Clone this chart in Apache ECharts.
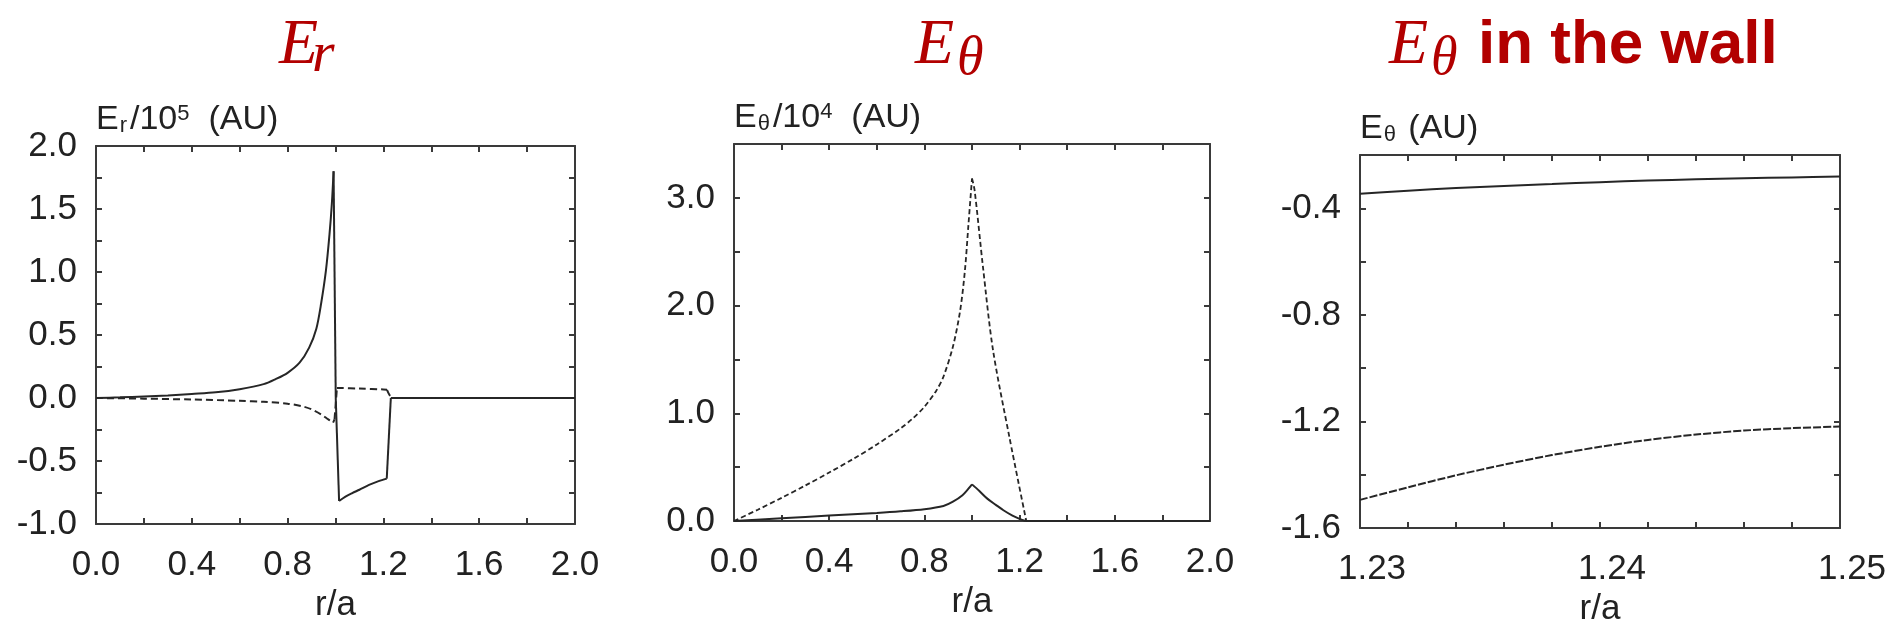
<!DOCTYPE html>
<html>
<head>
<meta charset="utf-8">
<script src="https://cdn.jsdelivr.net/npm/echarts/dist/echarts.min.js"></script>
<style>
html,body{margin:0;padding:0;background:#fff;}
#c{width:1892px;height:632px;}
</style>
</head>
<body>
<div id="c"></div>
<script>
// ---------- DATA ----------
// Panel 1: E_r / 10^5 (AU) vs r/a
const erSolidR = [0, 0.1, 0.2, 0.3, 0.4, 0.5, 0.6, 0.7, 0.75, 0.8, 0.85, 0.89, 0.92, 0.94, 0.96, 0.975, 0.985, 0.992, 1.001, 1.015, 1.04, 1.07, 1.1, 1.14, 1.18, 1.214, 1.231, 1.6, 2.0];
const erSolidV = [0, 0.005, 0.012, 0.02, 0.032, 0.045, 0.07, 0.11, 0.15, 0.2, 0.28, 0.40, 0.55, 0.75, 1.01, 1.30, 1.55, 1.80, 0.0, -0.818, -0.785, -0.755, -0.728, -0.69, -0.66, -0.64, 0.0, 0, 0];
const erSolidCorners = [0, 17, 18, 19, 25, 26, 28];
const erDashR = [0, 0.2, 0.4, 0.6, 0.7, 0.8, 0.86, 0.9, 0.94, 0.97, 0.99, 0.996, 1.006, 1.1, 1.2, 1.215, 1.225, 1.235, 1.6, 2.0];
const erDashV = [0, -0.005, -0.012, -0.022, -0.03, -0.045, -0.065, -0.09, -0.13, -0.17, -0.195, -0.17, 0.08, 0.075, 0.068, 0.065, 0.025, 0, 0, 0];
const erDashCorners = [0, 10, 11, 12, 15, 17, 19];

// Panel 2: E_theta / 10^4 (AU) vs r/a
const etDashR = [0, 0.1, 0.2, 0.3, 0.4, 0.5, 0.6, 0.7, 0.75, 0.8, 0.85, 0.88, 0.92, 0.95, 0.97, 0.985, 1.0, 1.011, 1.046, 1.088, 1.157, 1.228, 1.6, 2.0];
const etDashV = [0, 0.105, 0.215, 0.33, 0.45, 0.575, 0.71, 0.86, 0.95, 1.06, 1.21, 1.34, 1.62, 1.95, 2.32, 2.75, 3.18, 3.07, 2.36, 1.59, 0.78, 0, 0, 0];
const etDashCorners = [0, 16, 21, 23];
const etSolidR = [0, 0.2, 0.4, 0.6, 0.7, 0.8, 0.88, 0.92, 0.96, 0.985, 1.0, 1.03, 1.063, 1.1, 1.132, 1.17, 1.202, 1.225, 1.6, 2.0];
const etSolidV = [0, 0.025, 0.05, 0.075, 0.09, 0.11, 0.14, 0.18, 0.24, 0.3, 0.34, 0.28, 0.21, 0.15, 0.10, 0.05, 0.018, 0, 0, 0];
const etSolidCorners = [0, 10, 17, 19];

// Panel 3: E_theta (AU) in the wall
const wallR = [1.230, 1.232, 1.234, 1.236, 1.238, 1.240, 1.242, 1.244, 1.246, 1.248, 1.250];
const wallSolidV = [-0.345, -0.334, -0.324, -0.316, -0.309, -0.302, -0.296, -0.291, -0.287, -0.284, -0.281];
const wallDashV = [-1.494, -1.447, -1.402, -1.362, -1.326, -1.295, -1.269, -1.249, -1.234, -1.225, -1.219];
const wallCorners = [0, 10];

// Tick label sets
const p1XLabels = [0.0, 0.4, 0.8, 1.2, 1.6, 2.0];
const p1YLabels = [-1.0, -0.5, 0.0, 0.5, 1.0, 1.5, 2.0];
const p2YLabels = [0.0, 1.0, 2.0, 3.0];
const p3XLabels = [1.23, 1.24, 1.25];
const p3YLabels = [-1.6, -1.2, -0.8, -0.4];

// ---------- CHART ----------
const INK = '#262626';
const FRAME = '#3a3a3a';
const LABEL_FONT = '"Liberation Sans", Arial, Helvetica, sans-serif';
const RED = '#b20000';

function inSet(set, v, tol) {
  return set.some(s => Math.abs(s - v) < tol);
}

const panels = [
  {
    grid: {left: 96, top: 146, width: 479, height: 378},
    x: {min: 0, max: 2, interval: 0.2, labels: p1XLabels, digits: 1},
    y: {min: -1, max: 2, interval: 0.25, labels: p1YLabels, digits: 1},
    name: '{t|E}{s|r}{t|/10}{p|5}{t|  (AU)}',
    xPad: 0,
    curves: [
      {r: erSolidR, v: erSolidV, corners: erSolidCorners, type: 'solid', width: 2},
      {r: erDashR, v: erDashV, corners: erDashCorners, type: [7, 4], width: 2}
    ]
  },
  {
    grid: {left: 734, top: 144, width: 476, height: 377},
    x: {min: 0, max: 2, interval: 0.2, labels: p1XLabels, digits: 1},
    y: {min: 0, max: 3.5, interval: 0.5, labels: p2YLabels, digits: 1},
    name: '{t|E}{s|θ}{t|/10}{p|4}{t|  (AU)}',
    xPad: 0,
    curves: [
      {r: etDashR, v: etDashV, corners: etDashCorners, type: [5, 3], width: 1.8},
      {r: etSolidR, v: etSolidV, corners: etSolidCorners, type: 'solid', width: 2}
    ]
  },
  {
    grid: {left: 1360, top: 155, width: 480, height: 385},
    x: {min: 1.23, max: 1.25, interval: 0.002, labels: p3XLabels, digits: 2},
    y: {min: -1.6, max: -0.2, interval: 0.2, labels: p3YLabels, digits: 1},
    name: '{t|E}{s|θ}{t| (AU)}',
    xPad: 24,
    curves: [
      {r: wallR, v: wallSolidV, corners: wallCorners, type: 'solid', width: 2},
      {r: wallR, v: wallDashV, corners: wallCorners, type: [8, 2], width: 2}
    ]
  }
];

const grids = [], xAxes = [], yAxes = [], series = [];
const lineStyle = {color: FRAME, width: 2};
const rich = {
  t: {fontSize: 34, fontFamily: LABEL_FONT, color: '#222'},
  s: {fontSize: 22, fontFamily: LABEL_FONT, color: '#222', verticalAlign: 'bottom', padding: [0, 3, 0, 1]},
  p: {fontSize: 22, fontFamily: LABEL_FONT, color: '#222', verticalAlign: 'top'}
};

panels.forEach((p, i) => {
  grids.push(Object.assign({containLabel: false}, p.grid));
  const xBase = {
    type: 'value', gridIndex: i, min: p.x.min, max: p.x.max, interval: p.x.interval,
    axisLine: {show: true, onZero: false, lineStyle},
    axisTick: {show: true, inside: true, length: 6, lineStyle},
    splitLine: {show: false}
  };
  xAxes.push(Object.assign({}, xBase, {
    position: 'bottom',
    axisLabel: {
      show: true, margin: 24, fontSize: 35, fontFamily: LABEL_FONT, color: '#222',
      padding: [0, 0, 0, p.xPad],
      formatter: v => inSet(p.x.labels, v, p.x.interval / 10) ? v.toFixed(p.x.digits) : ''
    },
    name: 'r/a', nameLocation: 'middle', nameGap: 57,
    nameTextStyle: {fontSize: 35, fontFamily: LABEL_FONT, color: '#222'}
  }));
  xAxes.push(Object.assign({}, xBase, {position: 'top', axisLabel: {show: false}}));
  const yBase = {
    type: 'value', gridIndex: i, min: p.y.min, max: p.y.max, interval: p.y.interval,
    axisLine: {show: true, onZero: false, lineStyle},
    axisTick: {show: true, inside: true, length: 6, lineStyle},
    splitLine: {show: false}
  };
  yAxes.push(Object.assign({}, yBase, {
    position: 'left',
    axisLabel: {
      show: true, margin: 19, fontSize: 35, fontFamily: LABEL_FONT, color: '#222',
      formatter: v => inSet(p.y.labels, v, p.y.interval / 10) ? v.toFixed(p.y.digits) : ''
    },
    name: p.name, nameLocation: 'end', nameGap: 9,
    nameTextStyle: {align: 'left', verticalAlign: 'bottom', rich}
  }));
  yAxes.push(Object.assign({}, yBase, {position: 'right', axisLabel: {show: false}}));
  p.curves.forEach(c => {
    for (let k = 0; k < c.corners.length - 1; k++) {
      const a = c.corners[k], b = c.corners[k + 1];
      const seg = [];
      for (let j = a; j <= b; j++) seg.push([c.r[j], c.v[j]]);
      series.push({
        type: 'line', xAxisIndex: 2 * i, yAxisIndex: 2 * i, data: seg,
        showSymbol: false, symbol: 'none', animation: false, clip: true,
        smooth: seg.length > 2 ? 0.3 : false,
        lineStyle: {color: INK, width: c.width, type: c.type}
      });
    }
  });
});

function t(text, x, y, size, opts) {
  return {
    type: 'text', x: x, y: y, silent: true,
    style: Object.assign({
      text: text, fill: RED, fontSize: size,
      fontFamily: '"Liberation Serif", "DejaVu Serif", serif', fontStyle: 'italic',
      align: 'left', verticalAlign: 'middle'
    }, opts || {})
  };
}

const graphics = [
  t('E', 279, 46, 64),
  t('r', 312, 56, 58),
  t('E', 915, 46, 64),
  t('θ', 957, 60, 54),
  t('E', 1389, 46, 64),
  t('θ', 1431, 60, 54),
  t('in the wall', 1478, 46, 62, {fontFamily: '"Liberation Sans", Arial, sans-serif', fontStyle: 'normal', fontWeight: 'bold'})
];

const chart = echarts.init(document.getElementById('c'), null, {renderer: 'canvas'});
chart.setOption({
  backgroundColor: '#fff',
  animation: false,
  grid: grids,
  xAxis: xAxes,
  yAxis: yAxes,
  series: series,
  graphic: graphics
});
</script>
</body>
</html>
